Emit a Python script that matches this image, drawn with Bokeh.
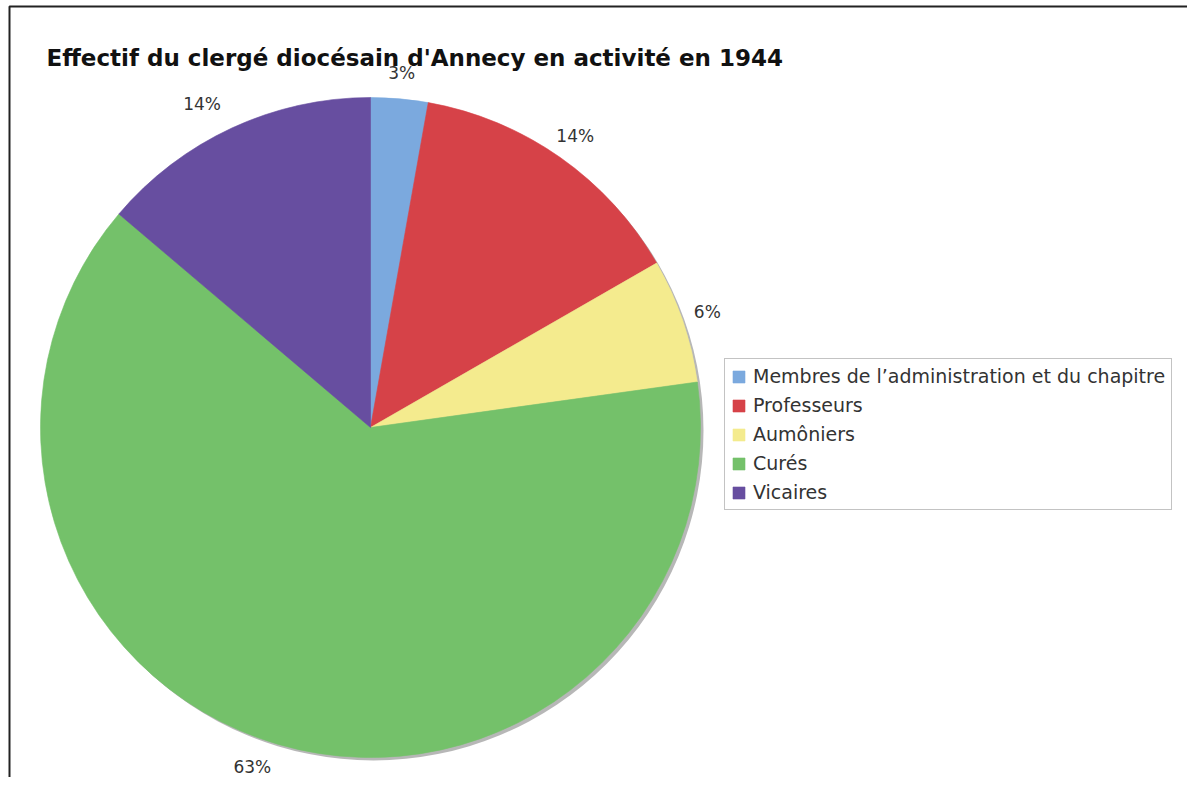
import math
from bokeh.plotting import figure
from bokeh.models import ColumnDataSource, Range1d, Label, Legend, LegendItem
from bokeh.core.properties import value
from bokeh.embed import file_html
from bokeh.resources import INLINE

# ---- data ----
title_text = "Effectif du clergé diocésain d'Annecy en activité en 1944"
categories = [
    "Membres de l\u2019administration et du chapitre",
    "Professeurs",
    "Aumôniers",
    "Curés",
    "Vicaires",
]
shares = [2.8, 13.9, 6.1, 63.4, 13.8]  # percent
colors = ["#7BA9DE", "#D64248", "#F4EB8E", "#74C16A", "#674EA0"]

# ---- layout (screen pixel coordinates, figure top-left = 0,0) ----
W, H = 1187, 777
CX, CY_SCREEN, R = 370, 427, 330
CY = H - CY_SCREEN
LABEL_R = 356

p = figure(width=W, height=H, output_backend="svg", toolbar_location=None,
           x_range=Range1d(0, W), y_range=Range1d(0, H),
           min_border=0, outline_line_color=None)
p.axis.visible = False
p.grid.visible = False
p.background_fill_color = "white"

# frame lines (left and top)
p.line(x=[9, 9, W + 5], y=[-5, H - 6, H - 6], line_color="#222222", line_width=2)

total = sum(shares)
starts, ends, mids = [], [], []
cum = 0.0
for s in shares:
    a0 = cum / total
    cum += s
    a1 = cum / total
    starts.append(math.pi / 2 - a0 * 2 * math.pi)
    ends.append(math.pi / 2 - a1 * 2 * math.pi)
    mids.append((a0 + a1) / 2 * 2 * math.pi)  # clockwise from top

src = ColumnDataSource(dict(cat=categories, share=shares, color=colors,
                            start=starts, end=ends))

# shadow
p.circle(x=[CX + 3], y=[CY - 3], radius=R, fill_color="#AFAFAF", line_color=None,
         fill_alpha=0.9)

wedges = p.wedge(x=CX, y=CY, radius=R, start_angle="start", end_angle="end",
                 direction="clock", fill_color="color", line_color="color",
                 line_width=0.6, source=src)

# percentage labels
lx, ly, ltxt, lalign = [], [], [], []
for s, m in zip(shares, mids):
    sx, cy = math.sin(m), math.cos(m)
    lx.append(CX + LABEL_R * sx)
    ly.append(max(CY + LABEL_R * cy, 11))
    ltxt.append(f"{round(s / total * 100)}%")
    lalign.append("center" if sx >= -0.05 else "right")
lsrc = ColumnDataSource(dict(x=lx, y=ly, t=ltxt, a=lalign))
p.text(x="x", y="y", text="t", text_align="a", text_baseline="middle",
       text_font=value("DejaVu Sans"), text_font_size="17px",
       text_color="#333333", source=lsrc)

# title
p.add_layout(Label(x=46, y=H - 57, text=title_text, text_font="DejaVu Sans",
                   text_font_style="bold", text_font_size="23px",
                   text_color="#111111", text_baseline="alphabetic"))

legend = Legend(items=[LegendItem(label=c, renderers=[wedges], index=i)
                       for i, c in enumerate(categories)],
                location=(724, H - 510), label_text_font="DejaVu Sans",
                label_text_font_size="19px", label_text_color="#333333",
                glyph_width=15, glyph_height=15, label_height=22, spacing=7,
                padding=6, label_standoff=7, margin=0,
                border_line_color="#888888", border_line_width=1,
                background_fill_color="white")
p.add_layout(legend)

open("out.html", "w").write(file_html(p, INLINE))
